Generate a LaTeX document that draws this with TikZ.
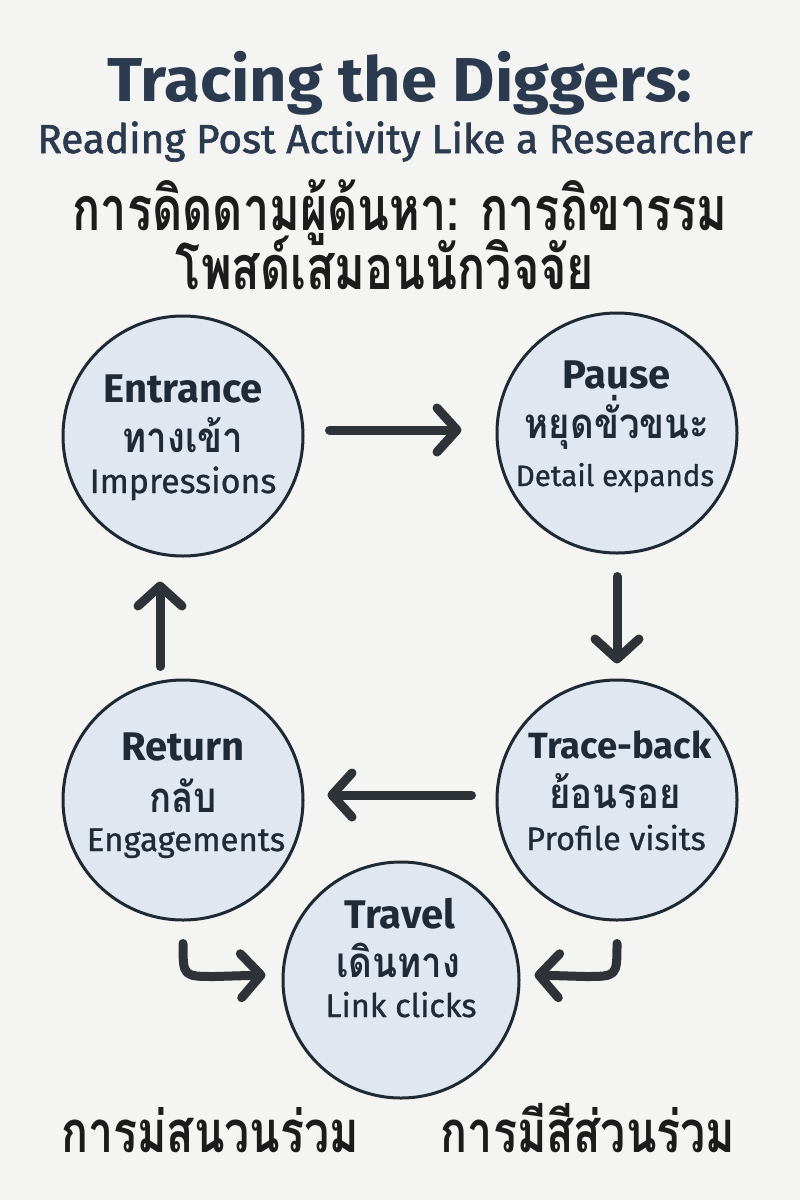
\documentclass[tikz,border=0pt]{standalone}
\usepackage{fontspec}
\setmainfont{Fira Sans}
\newfontfamily\titlefont[FakeStretch=1.05]{Fira Sans}
\newfontfamily\subfont[FakeBold=1.6]{Fira Sans}
\newfontfamily\medfont[FakeBold=0.8]{Fira Sans}
\newfontfamily\thaiA[Script=Thai,FakeStretch=0.765]{Loma}
\newfontfamily\thaiB[Script=Thai,FakeStretch=0.77]{Loma}
\newfontfamily\thaiC[Script=Thai,FakeStretch=0.87]{Loma}
\usetikzlibrary{arrows.meta,calc}
\definecolor{bg}{HTML}{F4F4F2}
\definecolor{titlecol}{HTML}{2B3A4E}
\definecolor{inkcol}{HTML}{1F2A36}
\definecolor{thaicol}{HTML}{1C1C1C}
\definecolor{circfill}{HTML}{E0E7F0}
\definecolor{circline}{HTML}{1E2933}
\definecolor{arrcol}{HTML}{2E3338}
\tikzset{
  stage/.style={circle,draw=circline,fill=circfill,line width=3pt,minimum size=240pt,inner sep=0pt},
  txt/.style={anchor=base,inner sep=0pt,text=inkcol},
  head/.style={txt,font=\fontsize{40}{40}\selectfont\bfseries},
  sub/.style={txt,font=\medfont\fontsize{#1}{#1}\selectfont},
  thai/.style={txt,font=\thaiC\fontsize{42}{42}\selectfont\bfseries},
  bigthai/.style={txt,text=thaicol,font=\thaiA\fontsize{61}{61}\selectfont\bfseries},
  botthai/.style={txt,text=thaicol,font=\thaiB\fontsize{58}{58}\selectfont\bfseries},
  arr/.style={draw=arrcol,line width=9pt,line cap=round,line join=round,
    -{Straight Barb[length=20pt,width=44pt,round]}},
}
\begin{document}
\begin{tikzpicture}[x=1pt,y=-1pt]
\fill[bg] (0,0) rectangle (800,1200);
\useasboundingbox (0,0) rectangle (800,1200);
% titles
\node[txt,text=titlecol,font=\titlefont\fontsize{62}{62}\selectfont\bfseries] (t1) at (400,101) {Tracing the Diggers:};
\node[txt,text=titlecol,font=\subfont\fontsize{40.5}{40.5}\selectfont] (t2) at (395,153) {Reading Post Activity Like a Researcher};
\node[bigthai] (t3) at (400,230) {การดิดดามผู้ด้นหา: การถิขารรม};
\node[bigthai] (t4) at (385,289) {โพสด์เสมอนนักวิจจัย};
% circles
\node[stage] (ent) at (183,436) {};
\node[stage] (pau) at (617,433) {};
\node[stage] (ret) at (183,800) {};
\node[stage] (trb) at (617,800) {};
\node[stage,minimum size=236pt] (tra) at (401,980) {};
% labels
\node[head] (entA) at (183,402) {Entrance};
\node[thai] (entB) at (183,452) {ทางเข้า};
\node[sub=34] (entC) at (183,493) {Impressions};
\node[head] (pauA) at (617,388) {Pause};
\node[thai] (pauB) at (617,438) {หยุดขั่วขนะ};
\node[sub=29.5] (pauC) at (615,486) {Detail expands};
\node[head] (retA) at (183,760) {Return};
\node[thai] (retB) at (183,812) {กลับ};
\node[sub=33] (retC) at (186,851) {Engagements};
\node[head,font=\fontsize{36.5}{36.5}\selectfont\bfseries] (trbA) at (620,758) {Trace-back};
\node[thai] (trbB) at (615,808) {ย้อนรอย};
\node[sub=32.5] (trbC) at (616,850) {Profile visits};
\node[head] (traA) at (400,928) {Travel};
\node[thai] (traB) at (398,977) {เดินทาง};
\node[sub=32.5] (traC) at (401,1017) {Link clicks};
% bottom labels
\node[botthai] (b1) at (210,1152) {การม่สนวนร่วม};
\node[botthai] (b2) at (588,1152) {การมีสีส่วนร่วม};
% arrows
\draw[arr,shorten <=25pt,shorten >=34pt] ($(ent.east)+(0,-6)$) -- ($(pau.west)+(0,-3)$);
\draw[arr,shorten <=22pt,shorten >=15pt] (pau.south) -- (trb.north);
\draw[arr,shorten <=24pt,shorten >=23pt] ($(trb.west)+(0,-5)$) -- ($(ret.east)+(0,-5)$);
\draw[arr,shorten <=14pt,shorten >=26pt] ($(ret.north)+(-23,2)$) -- ($(ent.south)+(-23,-2)$);
\coordinate (lt) at ($(tra.west)+(-16,-5)$);
\coordinate (rt) at ($(tra.east)+(14,-5)$);
\draw[arr] ($(ret.south)+(0,22)$) .. controls ($(ret.south)+(0,55)$) .. ($(ret.south)+(32,55)$) -- (lt);
\draw[arr] ($(trb.south)+(0,22)$) .. controls ($(trb.south)+(0,55)$) .. ($(trb.south)+(-32,55)$) -- (rt);
\end{tikzpicture}
\end{document}
